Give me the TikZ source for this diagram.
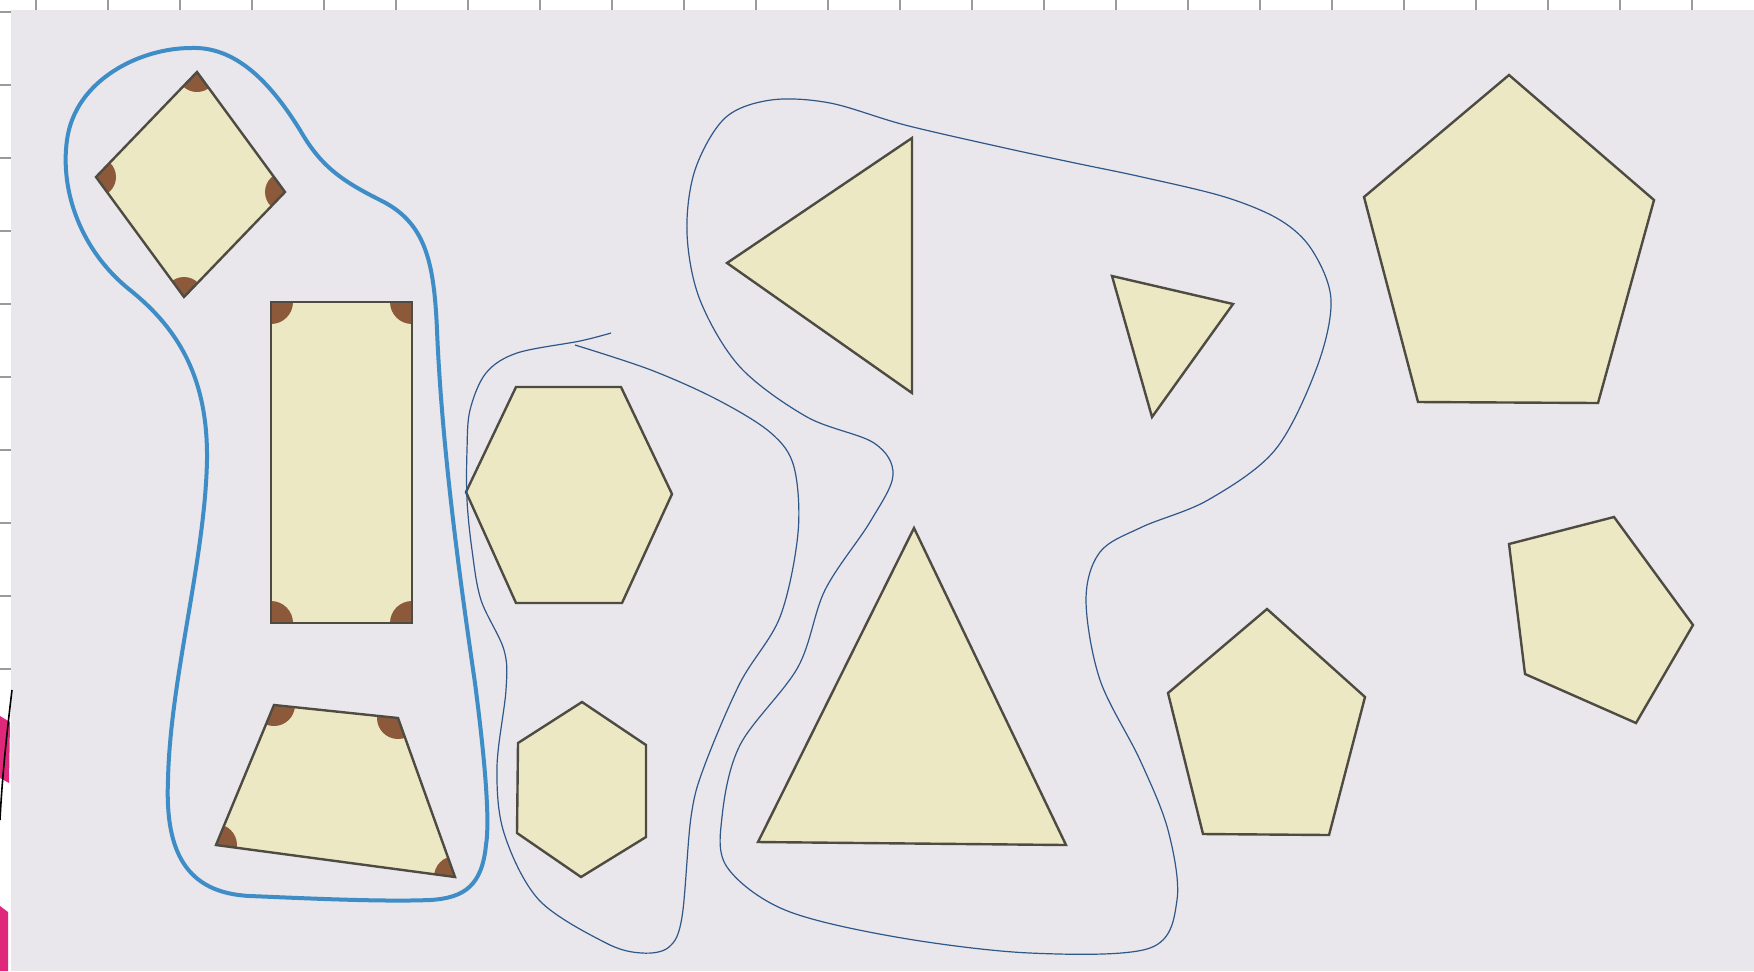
\documentclass[tikz,border=0pt]{standalone}
\definecolor{bg}{HTML}{E9E6EC}
\definecolor{shapefill}{HTML}{EDE8C4}
\definecolor{shapeline}{HTML}{4E4B43}
\definecolor{cornercol}{HTML}{8C5A3A}
\definecolor{thickblue}{HTML}{3E8DC7}
\definecolor{thinblue}{HTML}{2F5888}
\definecolor{tickcol}{HTML}{9A9A9A}
\definecolor{magentacol}{HTML}{E0287A}
\begin{document}
\begin{tikzpicture}[x=0.5pt,y=-0.5pt,
  figure/.style={fill=shapefill,draw=shapeline,line width=1.2pt,line join=miter},
  bigloop/.style={draw=thickblue,line width=2pt},
  thinloop/.style={draw=thinblue,line width=0.6pt},
  tick/.style={draw=tickcol,line width=0.7pt}]
\useasboundingbox (0,0) rectangle (1754,971);
\fill[bg] (0,0) rectangle (1754,971);
% paper edges with ticks
\fill[white] (0,0) rectangle (1754,10);
\fill[white] (0,0) rectangle (11,971);
\foreach \i in {0,...,23} \draw[tick] ({36+72*\i},0) -- ({36+72*\i},10);
\foreach \i in {0,...,9} \draw[tick] (0,{12+73*\i}) -- (11,{12+73*\i});
\fill[magentacol] (0,716) -- (10,722) -- (9,783) -- (0,778) -- cycle;
\fill[magentacol] (0,906) -- (8,912) -- (8,971) -- (0,971) -- cycle;
\draw[black,line width=0.8pt] (12,690) .. controls (6,740) and (2,780) .. (0,820);

% ---------- quadrilaterals with marked corners ----------
% square (diamond)
\fill[shapefill] (197,72) -- (285,192) -- (184,297) -- (96,177) -- cycle;
\begin{scope}
  \clip (197,72) -- (285,192) -- (184,297) -- (96,177) -- cycle;
  \foreach \p in {(197,72),(285,192),(184,297),(96,177)}
    \fill[cornercol] \p circle[radius=10pt];
\end{scope}
\draw[figure,fill=none] (197,72) -- (285,192) -- (184,297) -- (96,177) -- cycle;

% rectangle
\fill[shapefill] (271,302) rectangle (412,623);
\begin{scope}
  \clip (271,302) rectangle (412,623);
  \foreach \p in {(271,302),(412,302),(412,623),(271,623)}
    \fill[cornercol] \p circle[radius=11pt];
\end{scope}
\draw[figure,fill=none] (271,302) rectangle (412,623);

% trapezoid
\fill[shapefill] (274,705) -- (398,718) -- (455,877) -- (216,845) -- cycle;
\begin{scope}
  \clip (274,705) -- (398,718) -- (455,877) -- (216,845) -- cycle;
  \foreach \p in {(274,705),(398,718),(455,877),(216,845)}
    \fill[cornercol] \p circle[radius=10.5pt];
\end{scope}
\draw[figure,fill=none] (274,705) -- (398,718) -- (455,877) -- (216,845) -- cycle;

% ---------- hexagons ----------
\draw[figure] (516,387) -- (621,387) -- (672,494) -- (622,603) -- (516,603) -- (466,492) -- cycle;
\draw[figure] (582,702) -- (646,745) -- (646,837) -- (581,877) -- (517,833) -- (518,743) -- cycle;

% ---------- triangles ----------
\draw[figure] (727,263) -- (912,138) -- (912,393) -- cycle;
\draw[figure] (914,528) -- (1066,845) -- (758,842) -- cycle;
\draw[figure] (1112,276) -- (1233,304) -- (1152,417) -- cycle;

% ---------- pentagons ----------
\draw[figure] (1509,75) -- (1654,200) -- (1598,403) -- (1418,402) -- (1364,197) -- cycle;
\draw[figure] (1267,609) -- (1365,697) -- (1329,835) -- (1203,834) -- (1168,693) -- cycle;
\draw[figure] (1614,517) -- (1693,625) -- (1636,723) -- (1525,674) -- (1509,544) -- cycle;

% ---------- loops ----------
\draw[bigloop] (191,48)
  .. controls (240,46) and (275,90) .. (300,130)
  .. controls (320,165) and (340,180) .. (380,200)
  .. controls (425,222) and (434,260) .. (437,330)
  .. controls (442,450) and (460,580) .. (475,683)
  .. controls (485,760) and (490,820) .. (486,845)
  .. controls (482,885) and (465,898) .. (430,900)
  .. controls (380,902) and (300,898) .. (250,896)
  .. controls (185,893) and (165,850) .. (168,780)
  .. controls (170,680) and (205,560) .. (207,460)
  .. controls (208,380) and (180,330) .. (130,290)
  .. controls (80,250) and (60,190) .. (67,140)
  .. controls (75,80) and (140,48) .. (191,48) -- cycle;

\draw[thinloop] plot[smooth, tension=0.55] coordinates {
  (611,333) (580,341) (517,353) (486,373) (470,410) (467,450) (467,500)
  (472,550) (481,600) (504,650) (506,690) (497,767) (504,833) (539,900)
  (606,943) (642,953) (669,947) (682,917) (691,817) (704,767) (740,683)
  (780,617) (798,533) (794,467) (771,433) (718,400) (651,370) (575,345)};

\draw[thinloop] plot[smooth cycle, tension=0.55] coordinates {
  (771,100) (830,103) (905,125) (1005,148) (1075,163) (1142,177)
  (1225,197) (1280,220) (1312,250) (1331,300) (1317,367) (1275,450)
  (1208,500) (1142,527) (1100,552) (1086,600) (1100,680) (1140,760)
  (1168,830) (1177,900) (1150,948) (1030,953) (896,937)
  (785,910) (727,867) (722,817) (740,745) (798,667) (825,590)
  (870,522) (893,475) (874,443) (807,417) (740,367) (700,300) (687,233)
  (695,170) (725,118)};
\end{tikzpicture}
\end{document}
